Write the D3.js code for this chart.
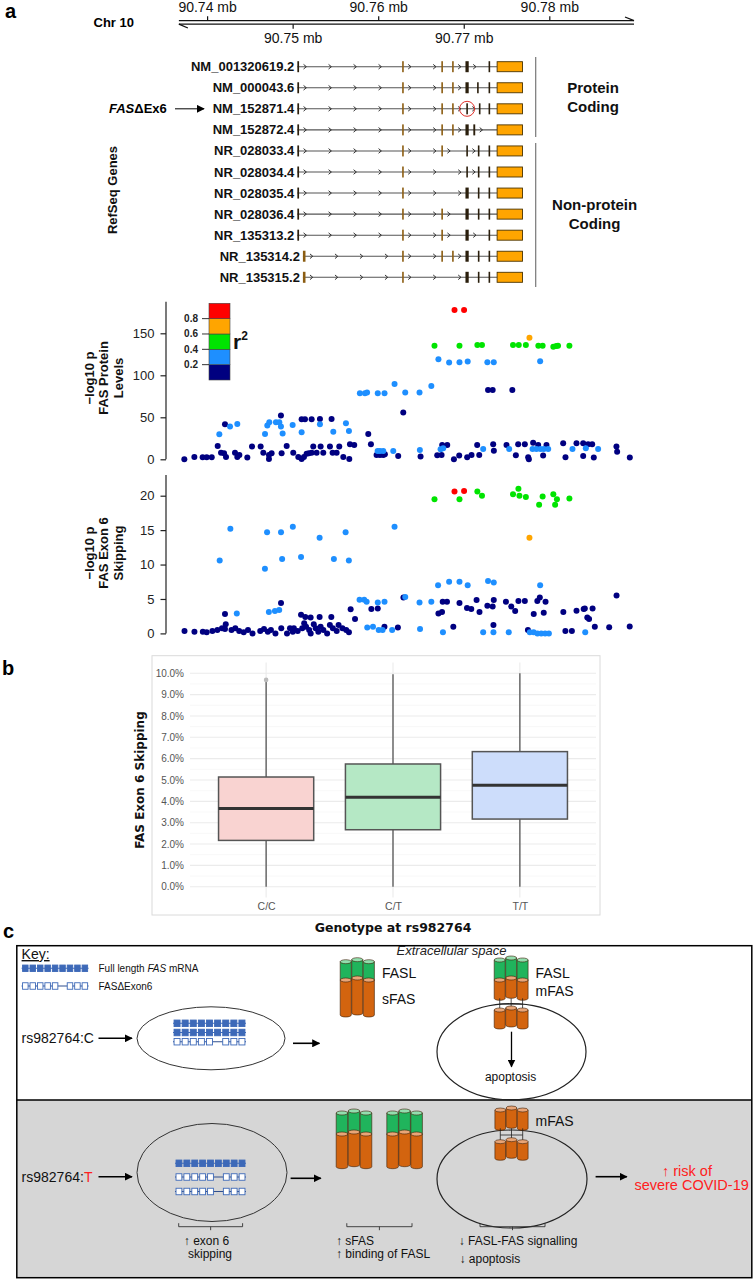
<!DOCTYPE html>
<html><head><meta charset="utf-8">
<script src="https://cdn.jsdelivr.net/npm/d3@7"></script>
<style>
body{margin:0;background:#fff;}
svg{display:block;font-family:"Liberation Sans",Arial,sans-serif;}
</style></head><body>
<svg id="fig" width="753" height="1279"></svg>
<script>
// ================= DATA =================
// chromosome 10 coordinates in kb
const chrTicks = [90740, 90750, 90760, 90770, 90780];
const chrTickLabels = ["90.74 mb", "90.75 mb", "90.76 mb", "90.77 mb", "90.78 mb"];
const chrExtent = [90736.7, 90789.9];

const transcriptNames = ["NM_001320619.2", "NM_000043.6", "NM_152871.4", "NM_152872.4",
  "NR_028033.4", "NR_028034.4", "NR_028035.4", "NR_028036.4", "NR_135313.2", "NR_135314.2", "NR_135315.2"];
// exons: [start kb, end kb, kind]  d = dark, b = brown
const transcriptExons = [
  [[90750.55,90750.75,"d"],[90762.80,90762.98,"b"],[90767.38,90767.56,"b"],[90768.64,90768.82,"b"],[90770.20,90770.58,"d"],[90772.90,90773.08,"d"]],
  [[90750.55,90750.75,"d"],[90762.80,90762.98,"b"],[90767.38,90767.56,"b"],[90768.64,90768.82,"b"],[90770.20,90770.58,"d"],[90771.56,90771.74,"d"],[90772.90,90773.08,"d"]],
  [[90750.55,90750.75,"d"],[90762.80,90762.98,"b"],[90767.38,90767.56,"b"],[90768.64,90768.82,"b"],[90770.30,90770.48,"d"],[90771.77,90771.95,"d"],[90772.90,90773.08,"d"]],
  [[90750.55,90750.75,"d"],[90762.80,90762.98,"b"],[90767.38,90767.56,"b"],[90768.64,90768.82,"b"],[90770.20,90770.58,"d"],[90771.12,90771.34,"d"]],
  [[90750.55,90750.75,"d"],[90762.80,90762.98,"b"],[90767.38,90767.56,"b"],[90770.30,90770.48,"d"],[90771.65,90771.83,"d"],[90772.90,90773.08,"d"]],
  [[90750.55,90750.75,"d"],[90762.80,90762.98,"b"],[90770.30,90770.48,"d"],[90771.65,90771.83,"d"],[90772.90,90773.08,"d"]],
  [[90750.55,90750.75,"d"],[90762.80,90762.98,"b"],[90770.20,90770.58,"d"],[90771.65,90771.83,"d"],[90772.90,90773.08,"d"]],
  [[90750.55,90750.75,"d"],[90762.80,90762.98,"b"],[90767.38,90767.56,"b"],[90770.20,90770.58,"d"],[90771.65,90771.83,"d"],[90772.90,90773.08,"d"]],
  [[90750.55,90750.75,"d"],[90762.80,90762.98,"b"],[90767.38,90767.56,"b"],[90770.20,90770.58,"d"],[90772.90,90773.08,"d"]],
  [[90751.20,90751.50,"b"],[90762.80,90762.98,"b"],[90767.38,90767.56,"b"],[90768.64,90768.82,"b"],[90770.20,90770.58,"d"],[90771.65,90771.83,"d"],[90772.90,90773.08,"d"]],
  [[90751.20,90751.50,"b"],[90762.80,90762.98,"b"],[90770.20,90770.58,"d"],[90771.65,90771.83,"d"],[90772.90,90773.08,"d"]]
];
const utrExon = [90773.90, 90776.87];
const circledExon = [2, 90770.39];   // transcript index, position of skipped exon 6

// locus plots: [position kb, -log10 p, r2 with lead SNP]
const proteinQTL = [
[90737.34,0,.1],[90738.51,2.8,.1],[90739.48,2.4,.1],[90739.95,2.4,.1],[90740.54,2.4,.1],
[90741.24,15.9,.1],[90741.63,7.9,.1],[90741.98,7.1,.1],[90742.21,2.8,.1],[90742.09,41.7,.1],
[90741.43,29.8,.3],[90742.68,38.9,.3],[90743.53,42.1,.3],
[90743.26,7.9,.1],[90743.53,2.8,.1],[90743.77,5.2,.1],[90744.70,2.0,.1],[90745.25,15.1,.1],[90746.26,15.1,.1],
[90746.57,7.9,.1],[90747.23,5.2,.1],[90747.23,0.4,.1],[90747.54,7.1,.1],
[90746.77,30.2,.3],[90747.04,40.1,.3],[90747.27,44,.3],[90748.05,44,.3],[90748.44,44,.3],[90748.63,38.9,.3],
[90748.63,52,.1],[90748.83,30.6,.3],[90749.30,15.9,.1],[90748.71,7.1,.1],[90750.00,40.9,.3],
[90751.05,47.6,.1],[90751.44,47.6,.1],[90752.22,47.6,.1],[90753.19,48,.1],[90754.55,48,.1],
[90751.05,32.1,.3],[90753.19,41.7,.3],[90754.75,32.9,.3],[90756.23,42.9,.3],[90756.58,33.7,.3],
[90750.07,7.9,.1],[90750.66,2.8,.1],[90751.05,0.4,.1],[90751.32,2.8,.1],[90751.63,6.7,.1],[90751.90,7.1,.1],
[90752.22,7.9,.1],[90752.41,15.1,.1],[90752.80,7.9,.1],[90753.27,15.1,.1],[90753.58,7.9,.1],[90754.36,15.1,.1],
[90754.67,7.9,.1],[90755.14,7.9,.1],[90755.45,15.1,.1],[90755.92,2.8,.1],[90756.62,0.4,.1],[90756.70,17.9,.1],
[90757.20,17.1,.1],[90758.84,30.2,.1],[90759.15,17.9,.1],
[90759.93,9.9,.3],[90760.20,9.9,.3],[90760.59,9.9,.3],
[90759.81,5.2,.1],[90760.20,5.2,.1],[90760.59,5.2,.1],[90760.78,6.0,.1],[90761.76,9.9,.3],[90762.34,4.0,.1],
[90757.86,78.6,.3],[90758.45,78.6,.3],[90758.70,79.4,.3],[90759.95,78.6,.3],[90760.74,78.6,.3],[90761.91,89.7,.3],
[90763.16,79.4,.3],[90764.83,79.4,.3],[90766.21,87.3,.3],
[90762.93,55.6,.1],
[90764.87,11.1,.3],[90764.95,3.2,.1],[90766.90,4.8,.1],[90767.41,5.2,.1],[90767.29,11.9,.3],[90767.60,13.1,.3],
[90767.48,17.1,.1],[90768.07,17.1,.1],[90768.85,0,.1],[90769.47,4.4,.1],[90770.40,2.4,.1],[90770.91,5.2,.1],
[90771.57,17.1,.1],[90771.81,5.2,.1],[90772.27,12.3,.3],[90773.44,17.9,.1],[90773.52,10.3,.1],[90775.00,17.1,.1],
[90775.31,12.3,.3],[90776.09,4.8,.1],[90776.36,17.9,.1],[90777.14,17.9,.1],[90777.53,2.4,.1],[90777.61,0,.1],
[90778.11,19.8,.1],[90778.04,12.3,.3],[90778.50,12.3,.3],[90778.97,12.3,.3],[90779.36,12.3,.3],[90779.87,12.3,.3],
[90778.70,17.1,.1],[90779.67,17.1,.1],[90779.28,4.4,.1],[90781.62,19.0,.1],[90781.89,2.4,.1],[90782.71,12.3,.3],
[90783.18,19.0,.1],[90783.96,19.0,.1],[90784.54,17.9,.1],[90785.01,17.9,.1],[90783.96,4.0,.1],[90784.27,13.1,.3],
[90785.20,2.0,.1],[90785.71,12.3,.3],[90787.85,15.1,.1],[90787.93,9.1,.1],[90789.41,2.0,.1],
[90772.84,82.5,.1],[90773.38,82.5,.1],[90775.68,82.5,.1],
[90767.04,119,.3],[90768.29,115.1,.3],[90769.50,115.5,.3],[90770.46,116.3,.3],[90772.76,115.5,.3],[90773.51,115.5,.3],[90778.93,116.7,.3],
[90766.58,135.3,.5],[90769.50,135.3,.5],[90771.59,136.1,.5],[90772.13,136.1,.5],[90775.76,136.1,.5],[90776.43,136.1,.5],
[90777.26,136.1,.5],[90778.72,135.3,.5],[90779.22,135.3,.5],[90780.47,134.1,.5],[90780.81,134.9,.5],[90781.02,135.3,.5],[90782.35,135.3,.5],
[90777.68,144.8,.7],
[90768.92,177.8,.9],[90770.04,177.8,.9]
];
const skippingQTL = [
[90737.36,.35,.1],[90738.52,.25,.1],[90739.50,.25,.1],[90739.95,.15,.1],[90740.62,.35,.1],[90741.20,.5,.1],
[90741.74,.74,.1],[90742.09,.64,.1],[90742.18,1.32,.1],[90742.85,.5,.1],[90743.30,.74,.1],[90743.75,.35,.1],
[90744.28,.15,.1],[90744.78,.5,.1],[90745.31,0,.1],[90746.21,.35,.1],[90746.65,.64,.1],[90747.10,.25,.1],
[90747.46,.5,.1],[90747.99,0,.1],[90748.67,.74,.1],[90749.34,0,.1],[90749.69,.74,.1],[90750.01,.25,.1],
[90750.14,.74,.1],[90750.59,.35,.1],[90751.12,.74,.1],[90751.35,1.46,.1],[90751.57,.98,.1],[90751.93,.5,.1],
[90752.11,0,.1],[90752.47,1.32,.1],[90752.69,.74,.1],[90753.00,.25,.1],[90753.27,.98,.1],[90753.59,.5,.1],
[90754.03,0,.1],[90754.35,1.22,.1],[90754.70,.74,.1],[90755.15,.35,.1],[90755.37,1.22,.1],[90755.82,.74,.1],
[90756.26,.5,.1],[90756.58,.15,.1],[90757.29,2.1,.1],
[90758.72,.85,.3],[90759.39,.98,.3],[90760.06,.5,.3],[90760.51,.5,.3],[90760.73,.98,.1],[90761.63,.5,.3],
[90762.30,.85,.1],[90764.89,.64,.3],[90767.57,.15,.3],[90768.78,.98,.1],[90772.27,.15,.3],[90773.47,.15,.3],
[90773.47,1.22,.1],[90775.26,.15,.3],[90777.50,.5,.1],[90777.72,.15,.3],[90778.17,.15,.3],[90778.61,0,.3],
[90779.06,0,.3],[90779.51,0,.3],[90779.95,0,.3],[90781.88,.35,.1],[90782.64,.35,.1],[90784.20,.15,.3],
[90784.65,2.1,.1],[90785.32,.98,.1],[90787.0,.9,.1],[90789.4,1.0,.1],
[90751.48,2.4,.1],[90752.10,2.3,.1],[90753.15,2.4,.1],[90754.52,2.4,.1],[90784.44,2.3,.1],
[90741.47,10.6,.3],[90742.72,15.2,.3],[90746.76,9.4,.3],[90747.01,14.7,.3],[90748.64,14.7,.3],[90748.77,10.8,.3],
[90750.02,15.5,.3],[90750.98,11.1,.3],[90753.15,13.9,.3],[90754.82,10.8,.3],[90756.19,14.7,.3],[90756.57,10.6,.3],[90761.91,15.5,.3],
[90767.00,7.0,.3],[90768.29,7.5,.3],[90769.50,7.5,.3],[90770.46,7.0,.3],[90772.84,7.6,.3],[90773.51,7.4,.3],[90778.93,7.0,.3],
[90757.82,4.9,.3],[90758.36,4.9,.3],[90758.65,4.6,.3],[90759.95,4.5,.3],[90760.74,4.6,.3],[90763.16,5.3,.3],[90764.83,4.5,.3],[90766.21,4.6,.3],
[90743.47,2.9,.3],[90747.22,3.1,.3],[90747.93,3.25,.3],[90748.43,3.4,.3],
[90742.09,2.8,.1],[90748.64,4.4,.1],[90750.98,2.7,.1],[90756.78,3.5,.1],[90759.20,3.55,.1],[90759.95,3.6,.1],[90762.95,5.2,.1],
[90767.04,2.9,.1],[90767.46,3.1,.1],[90767.54,4.6,.1],[90768.04,4.6,.1],[90769.50,4.4,.1],[90770.38,3.7,.1],[90770.88,3.55,.1],
[90771.50,4.85,.1],[90771.84,3.1,.1],[90772.76,4.0,.1],[90773.38,3.9,.1],[90773.51,4.85,.1],[90774.93,4.6,.1],[90775.55,3.9,.1],
[90776.01,3.25,.1],[90776.39,4.7,.1],[90777.14,4.7,.1],[90778.18,2.8,.1],[90778.60,4.7,.1],[90778.89,5.2,.1],[90779.56,4.6,.1],
[90779.35,3.0,.1],[90781.64,3.1,.1],[90783.18,3.3,.1],[90784.02,3.55,.1],[90784.15,3.6,.1],[90785.06,3.6,.1],[90787.86,5.5,.1],
[90766.58,19.5,.5],[90769.50,19.5,.5],[90771.59,20.6,.5],[90772.13,20.0,.5],[90775.76,20.2,.5],[90776.39,21.0,.5],[90776.51,20.0,.5],
[90777.26,19.8,.5],[90778.81,18.7,.5],[90779.22,19.9,.5],[90780.47,20.2,.5],[90780.68,18.7,.5],[90780.89,19.5,.5],[90782.35,19.6,.5],
[90777.68,13.9,.7],
[90768.92,20.6,.9],[90770.04,20.7,.9]
];
const proteinTicks = [0, 50, 100, 150];
const skippingTicks = [0, 5, 10, 15, 20];
const r2Breaks = [0.2, 0.4, 0.6, 0.8];
const r2Colors = ["#000080", "#1E8FFF", "#00E400", "#FFA500", "#FF0000"];

// panel b: box plot statistics (fraction)
const genotypes = ["C/C", "C/T", "T/T"];
const boxQ1 = [0.0217, 0.0267, 0.0317];
const boxMedian = [0.0366, 0.0419, 0.0475];
const boxQ3 = [0.0514, 0.0575, 0.0633];
const whiskerLow = [0, 0, 0];
const whiskerHigh = [0.0960, 0.0995, 0.1000];
const outlierGenotype = ["C/C"];
const outlierValue = [0.0969];
const boxFills = ["#F9D3D1", "#B5E8C5", "#CDDDFB"];
const percentTicks = [0, 0.01, 0.02, 0.03, 0.04, 0.05, 0.06, 0.07, 0.08, 0.09, 0.10];

// ================= DRAW =================
const svg = d3.select("#fig");
const FONT = "'Liberation Sans', Arial, sans-serif";
const DV = "'DejaVu Sans', Verdana, sans-serif";

// ---------- Panel a: gene track ----------
const x = d3.scaleLinear().domain([90740, 90780]).range([207.1, 549.3]);
const gA = svg.append("g");
gA.append("text").attr("x", 5).attr("y", 18).attr("font-size", 20).attr("font-weight", "bold").text("a");
gA.append("text").attr("x", 134).attr("y", 26.5).attr("text-anchor", "end").attr("font-size", 13).attr("font-weight", "bold").text("Chr 10");

const styleAxis = g => { g.select(".domain").remove(); g.selectAll("text").attr("font-size", 14).attr("font-family", FONT).attr("fill", "#111"); g.selectAll("line").attr("stroke", "#111").attr("stroke-width", 1.2); };
gA.append("g").attr("transform", "translate(0,20.7)")
  .call(d3.axisTop(x).tickValues(chrTicks.filter((d, i) => i % 2 === 0)).tickFormat(d => chrTickLabels[chrTicks.indexOf(d)]).tickSize(4.5).tickPadding(4))
  .call(styleAxis);
gA.append("g").attr("transform", "translate(0,24.2)")
  .call(d3.axisBottom(x).tickValues(chrTicks.filter((d, i) => i % 2 === 1)).tickFormat(d => chrTickLabels[chrTicks.indexOf(d)]).tickSize(4.5).tickPadding(4))
  .call(styleAxis);
const xs = x(chrExtent[0]), xe = x(chrExtent[1]);
gA.append("line").attr("x1", xs).attr("x2", xe).attr("y1", 20.7).attr("y2", 20.7).attr("stroke", "#111").attr("stroke-width", 1.3);
gA.append("line").attr("x1", xs).attr("x2", xe).attr("y1", 24.2).attr("y2", 24.2).attr("stroke", "#111").attr("stroke-width", 1.3);
gA.append("path").attr("d", `M${xe - 9},17 L${xe},20.7`).attr("stroke", "#111").attr("stroke-width", 1.3).attr("fill", "none");
gA.append("path").attr("d", `M${xs + 9},28 L${xs},24.2`).attr("stroke", "#111").attr("stroke-width", 1.3).attr("fill", "none");

const rowY = d3.scaleLinear().domain([0, 10]).range([66.7, 277.3]);
const exonColor = { d: "#2a1e0c", b: "#8C5D12" };
transcriptNames.forEach((name, i) => {
  const y = rowY(i);
  const ex = transcriptExons[i];
  const g = gA.append("g");
  const x0 = x(ex[0][0]), xb = x(utrExon[0]);
  g.append("text").attr("x", x0 - 3).attr("y", y + 4.5).attr("text-anchor", "end")
    .attr("font-size", 13).attr("font-weight", "bold").attr("fill", "#111").text(name);
  g.append("line").attr("x1", x0).attr("x2", xb).attr("y1", y).attr("y2", y).attr("stroke", "#555").attr("stroke-width", 1.1);
  const bounds = ex.map(e => [x(e[0]), x(e[1])]).concat([[xb, x(utrExon[1])]]);
  for (let k = 0; k < bounds.length - 1; k++) {
    const a = bounds[k][1], b = bounds[k + 1][0];
    for (let p = a + 6; p < b - 4; p += 25) {
      g.append("path").attr("d", `M${p - 1.5},${y - 2.3} L${p + 1.3},${y} L${p - 1.5},${y + 2.3}`)
        .attr("fill", "none").attr("stroke", "#333").attr("stroke-width", 1);
    }
  }
  ex.forEach(e => {
    g.append("rect").attr("x", x(e[0])).attr("y", y - 5.5).attr("width", Math.max(1.6, x(e[1]) - x(e[0]))).attr("height", 11)
      .attr("fill", exonColor[e[2]]);
  });
  g.append("rect").attr("x", xb).attr("y", y - 5).attr("width", x(utrExon[1]) - xb).attr("height", 10)
    .attr("fill", "#FFA500").attr("stroke", "#4a3300").attr("stroke-width", 0.9);
});
gA.append("circle").attr("cx", x(circledExon[1])).attr("cy", rowY(circledExon[0])).attr("r", 7.5)
  .attr("fill", "none").attr("stroke", "#e0302a").attr("stroke-width", 1);

const defs = svg.append("defs");
defs.append("marker").attr("id", "ah").attr("viewBox", "0 0 10 10").attr("refX", 9).attr("refY", 5)
  .attr("markerWidth", 8).attr("markerHeight", 8).attr("markerUnits", "userSpaceOnUse").attr("orient", "auto")
  .append("path").attr("d", "M0,0 L10,5 L0,10 Z").attr("fill", "#000");
const arrow = (g, x1, y1, x2, y2, w = 1.6) => g.append("line").attr("x1", x1).attr("y1", y1).attr("x2", x2).attr("y2", y2)
  .attr("stroke", "#000").attr("stroke-width", w).attr("marker-end", "url(#ah)");

const fasT = gA.append("text").attr("x", 109).attr("y", rowY(2) + 4.5).attr("font-size", 13).attr("font-weight", "bold");
fasT.append("tspan").attr("font-style", "italic").text("FAS");
fasT.append("tspan").text("ΔEx6");
arrow(gA, 175, rowY(2), 204, rowY(2), 1);

gA.append("line").attr("x1", 535.7).attr("x2", 535.7).attr("y1", 57).attr("y2", 137).attr("stroke", "#777").attr("stroke-width", 1.2);
gA.append("line").attr("x1", 535.7).attr("x2", 535.7).attr("y1", 143).attr("y2", 287).attr("stroke", "#777").attr("stroke-width", 1.2);
[["Protein", 93, 87.3], ["Coding", 93, 106.7], ["Non-protein", 94.6, 204.3], ["Coding", 94.6, 223.3]].forEach(t => {
  gA.append("text").attr("x", 500 + t[1]).attr("y", t[2] + 5.3).attr("text-anchor", "middle").attr("font-size", 15).attr("font-weight", "bold").attr("fill", "#111").text(t[0]);
});
gA.append("text").attr("transform", "translate(117,190) rotate(-90)").attr("text-anchor", "middle")
  .attr("font-size", 13).attr("font-weight", "bold").attr("fill", "#111").text("RefSeq Genes");

// ---------- Locus plots ----------
const r2Color = d3.scaleThreshold().domain(r2Breaks).range(r2Colors);
function locus(data, ticks, yRange, axisTopY, labels, labelY) {
  const y = d3.scaleLinear().domain([0, ticks[ticks.length - 1]]).range(yRange);
  const g = svg.append("g");
  g.append("g").attr("transform", "translate(166,0)")
    .call(d3.axisLeft(y).tickValues(ticks).tickSize(5.5).tickPadding(6))
    .call(a => { a.select(".domain").remove(); a.selectAll("text").attr("font-size", 13).attr("font-family", FONT).attr("fill", "#222"); a.selectAll("line").attr("stroke", "#222").attr("stroke-width", 1.2); });
  g.append("line").attr("x1", 166).attr("x2", 166).attr("y1", y(0)).attr("y2", axisTopY).attr("stroke", "#222").attr("stroke-width", 1.2);
  labels.forEach((t, i) => {
    g.append("text").attr("transform", `translate(${89 + i * 14.5},${labelY}) rotate(-90)`).attr("dy", "0.35em")
      .attr("text-anchor", "middle").attr("font-size", 13).attr("font-weight", "bold").attr("fill", "#111").text(t);
  });
  const sorted = data.slice().sort((a, b) => a[2] - b[2]);
  g.selectAll("circle.pt").data(sorted).join("circle").attr("class", "pt")
    .attr("cx", d => x(d[0])).attr("cy", d => y(d[1])).attr("r", 3).attr("fill", d => r2Color(d[2]));
  return g;
}
locus(proteinQTL, proteinTicks, [459.3, 333.3], 301.7, ["\u2212log10 p", "FAS Protein", "Levels"], 378);
locus(skippingQTL, skippingTicks, [633.4, 495.7], 475, ["\u2212log10 p", "FAS Exon 6", "Skipping"], 553);

// r2 legend
const leg = svg.append("g");
const ly = d3.scaleLinear().domain([0, 1]).range([380, 303.3]);
const legEdges = [0].concat(r2Breaks, [1]);
r2Colors.forEach((c, i) => {
  leg.append("rect").attr("x", 209).attr("y", ly(legEdges[i + 1])).attr("width", 21).attr("height", ly(legEdges[i]) - ly(legEdges[i + 1]))
    .attr("fill", c).attr("stroke", "#444").attr("stroke-width", 0.6);
});
r2Breaks.forEach(b => {
  leg.append("line").attr("x1", 202).attr("x2", 209).attr("y1", ly(b)).attr("y2", ly(b)).attr("stroke", "#333");
  leg.append("text").attr("x", 198).attr("y", ly(b) + 3.5).attr("text-anchor", "end").attr("font-size", 10).attr("font-weight", "bold").attr("fill", "#222").text(b.toFixed(1));
});
const r2t = leg.append("text").attr("x", 233).attr("y", 349).attr("font-size", 21).attr("font-weight", "bold").attr("fill", "#111");
r2t.append("tspan").text("r");
r2t.append("tspan").attr("font-size", 12).attr("dy", -9).text("2");

// ---------- Panel b: box plot ----------
const gB = svg.append("g");
gB.append("text").attr("x", 2).attr("y", 675).attr("font-size", 20).attr("font-weight", "bold").text("b");
gB.append("rect").attr("x", 152).attr("y", 655.7).attr("width", 448).attr("height", 259.3).attr("fill", "#fff").attr("stroke", "#DADADA").attr("stroke-width", 1);
const yB = d3.scaleLinear().domain([-0.005, 0.105]).range([897.4, 662.6]);
const xB = d3.scalePoint().domain(genotypes).range([190, 596]).padding(0.6);
const bw = xB.step() * 0.75;
d3.range(0, 0.1001, 0.005).forEach(v => {
  const major = Math.abs(v * 100 - Math.round(v * 100)) < 1e-6;
  gB.append("line").attr("x1", 190).attr("x2", 596).attr("y1", yB(v)).attr("y2", yB(v))
    .attr("stroke", major ? "#EBEBEB" : "#F4F4F4").attr("stroke-width", major ? 1.1 : 0.6);
});
genotypes.forEach(gt => gB.append("line").attr("x1", xB(gt)).attr("x2", xB(gt)).attr("y1", 662.6).attr("y2", 897.4).attr("stroke", "#EBEBEB").attr("stroke-width", 1.1));
gB.append("g").attr("transform", "translate(190,0)")
  .call(d3.axisLeft(yB).tickValues(percentTicks).tickFormat(d3.format(".1%")).tickSize(0).tickPadding(6))
  .call(a => { a.select(".domain").remove(); a.selectAll("text").attr("font-size", 10).attr("font-family", FONT).attr("fill", "#555"); });
gB.append("g").attr("transform", "translate(0,897.4)")
  .call(d3.axisBottom(xB).tickSize(0).tickPadding(5))
  .call(a => { a.select(".domain").remove(); a.selectAll("text").attr("font-size", 10.5).attr("font-family", FONT).attr("fill", "#555"); });
genotypes.forEach((gt, i) => {
  const cx = xB(gt);
  gB.append("line").attr("x1", cx).attr("x2", cx).attr("y1", yB(boxQ3[i])).attr("y2", yB(whiskerHigh[i])).attr("stroke", "#555").attr("stroke-width", 1.3);
  gB.append("line").attr("x1", cx).attr("x2", cx).attr("y1", yB(boxQ1[i])).attr("y2", yB(whiskerLow[i])).attr("stroke", "#555").attr("stroke-width", 1.3);
  gB.append("rect").attr("x", cx - bw / 2).attr("y", yB(boxQ3[i])).attr("width", bw).attr("height", yB(boxQ1[i]) - yB(boxQ3[i]))
    .attr("fill", boxFills[i]).attr("stroke", "#555").attr("stroke-width", 1.5);
  gB.append("line").attr("x1", cx - bw / 2).attr("x2", cx + bw / 2).attr("y1", yB(boxMedian[i])).attr("y2", yB(boxMedian[i])).attr("stroke", "#333").attr("stroke-width", 3);
});
outlierGenotype.forEach((gt, i) => gB.append("circle").attr("cx", xB(gt)).attr("cy", yB(outlierValue[i])).attr("r", 2.3).attr("fill", "#BBBBBB"));
gB.append("text").attr("transform", "translate(140,780) rotate(-90)").attr("dy", "0.35em").attr("text-anchor", "middle")
  .attr("font-family", DV).attr("font-size", 12).attr("font-weight", "bold").attr("fill", "#111").text("FAS Exon 6 Skipping");
gB.append("text").attr("x", 393).attr("y", 931.5).attr("text-anchor", "middle")
  .attr("font-family", DV).attr("font-size", 12.5).attr("font-weight", "bold").attr("fill", "#111").text("Genotype at rs982764");

// ---------- Panel c: schematic ----------
const gC = svg.append("g");
gC.append("text").attr("x", 3).attr("y", 938).attr("font-size", 20).attr("font-weight", "bold").text("c");
gC.append("rect").attr("x", 16.8).attr("y", 1100).attr("width", 735).attr("height", 177.7).attr("fill", "#D6D6D6");
gC.append("rect").attr("x", 16.8).attr("y", 945.7).attr("width", 735).attr("height", 332).attr("fill", "none").attr("stroke", "#000").attr("stroke-width", 1.5);
gC.append("line").attr("x1", 16.8).attr("x2", 751.8).attr("y1", 1100).attr("y2", 1100).attr("stroke", "#000").attr("stroke-width", 1.5);

const BLUE = "#3D69B8";
function mrna(g, x0, y, w, full) {
  const n = 9, slot = w / n, bwid = slot * 0.74, bh = 6.5;
  g.append("line").attr("x1", x0).attr("x2", x0 + w).attr("y1", y).attr("y2", y).attr("stroke", full ? BLUE : "#2f4f8f").attr("stroke-width", 1.1);
  for (let i = 0; i < n; i++) {
    if (!full && i === 5) continue;
    g.append("rect").attr("x", x0 + i * slot + (slot - bwid) / 2).attr("y", y - bh / 2).attr("width", bwid).attr("height", bh)
      .attr("fill", full ? BLUE : "#fff").attr("stroke", BLUE).attr("stroke-width", 0.9);
  }
}
const OR = "#D3640F", OR_CAP = "#E9A577", GR = "#20B45C", GR_CAP = "#93DEAE";
function complex(g, x0, w, segs) {
  const cw = w / 3;
  for (let i = 0; i < 3; i++) {
    const cx = x0 + cw * (i + 0.5), off = i === 1 ? -2 : 0, rx = cw / 2 - 0.2;
    segs.forEach(s => {
      const t = s[0] + off, b = s[1] + off;
      const fill = s[2] === "g" ? GR : OR, cap = s[2] === "g" ? GR_CAP : OR_CAP;
      g.append("path").attr("d", `M${cx - rx},${t} L${cx - rx},${b} A${rx},2 0 0 0 ${cx + rx},${b} L${cx + rx},${t} Z`)
        .attr("fill", fill).attr("stroke", "#3a1d05").attr("stroke-width", 0.6);
      g.append("ellipse").attr("cx", cx).attr("cy", t).attr("rx", rx).attr("ry", 2).attr("fill", cap).attr("stroke", "#3a1d05").attr("stroke-width", 0.6);
    });
  }
}
function connectors(g, x0, w, t, b) {
  const cw = w / 3;
  for (let i = 0; i < 3; i++) g.append("line").attr("x1", x0 + cw * (i + 0.5)).attr("x2", x0 + cw * (i + 0.5)).attr("y1", t).attr("y2", b).attr("stroke", "#222").attr("stroke-width", 0.8);
  g.append("line").attr("x1", x0 + cw * 0.5).attr("x2", x0 + cw * 2.5).attr("y1", (t + b) / 2).attr("y2", (t + b) / 2).attr("stroke", "#222").attr("stroke-width", 0.8);
}
const txt = (g, s, xx, yy, size, opts = {}) => g.append("text").attr("x", xx).attr("y", yy).attr("font-size", size).attr("fill", opts.fill || "#111")
    .attr("text-anchor", opts.anchor || "start").attr("font-style", opts.italic ? "italic" : "normal").text(s);

// key
txt(gC, "Key:", 21.6, 959, 14).attr("text-decoration", "underline");
mrna(gC, 21.6, 968.3, 67, true);
mrna(gC, 21.6, 986, 67, false);
const k1 = gC.append("text").attr("x", 98.5).attr("y", 971.8).attr("font-size", 10).attr("fill", "#111");
k1.append("tspan").text("Full length ");
k1.append("tspan").attr("font-style", "italic").text("FAS");
k1.append("tspan").text(" mRNA");
txt(gC, "FASΔExon6", 98.5, 989.5, 10);
txt(gC, "Extracellular space", 451.5, 955, 13, { anchor: "middle", italic: true, fill: "#222" });

// top (C allele)
txt(gC, "rs982764:C", 21.6, 1043.3, 14);
arrow(gC, 98.5, 1038.3, 132, 1038.3);
gC.append("ellipse").attr("cx", 211).attr("cy", 1038.3).attr("rx", 74).attr("ry", 31.5).attr("fill", "none").attr("stroke", "#333").attr("stroke-width", 1);
mrna(gC, 173, 1023.3, 73, true);
mrna(gC, 173, 1032.5, 73, true);
mrna(gC, 173, 1041.7, 73, false);
arrow(gC, 293, 1043.3, 319.4, 1043.3);
complex(gC, 340, 34.6, [[961.7, 980, "g"], [980, 1015, "o"]]);
txt(gC, "FASL", 382, 978, 14);
txt(gC, "sFAS", 382, 1003.7, 14);
gC.append("ellipse").attr("cx", 511.5).attr("cy", 1051.7).attr("rx", 74.5).attr("ry", 48).attr("fill", "none").attr("stroke", "#222").attr("stroke-width", 1.2);
complex(gC, 494, 34.3, [[960, 980, "g"], [980, 998.3, "o"]]);
connectors(gC, 494, 34.3, 998.3, 1010);
complex(gC, 494, 34.3, [[1010, 1027, "o"]]);
txt(gC, "FASL", 535.5, 977.7, 14);
txt(gC, "mFAS", 535.5, 996.4, 14);
arrow(gC, 511.5, 1031.7, 511.5, 1066.7, 1.3);
txt(gC, "apoptosis", 510.6, 1080.9, 12, { anchor: "middle" });

// bottom (T allele)
const rsT = gC.append("text").attr("x", 21.6).attr("y", 1181.7).attr("font-size", 14).attr("fill", "#111");
rsT.append("tspan").text("rs982764:");
rsT.append("tspan").attr("fill", "#FF2020").text("T");
arrow(gC, 98.5, 1176.7, 132, 1176.7);
gC.append("ellipse").attr("cx", 212).attr("cy", 1172.5).attr("rx", 75).attr("ry", 49).attr("fill", "none").attr("stroke", "#333").attr("stroke-width", 1);
mrna(gC, 175, 1163.3, 71, true);
mrna(gC, 175, 1177, 71, false);
mrna(gC, 175, 1191.5, 71, false);
arrow(gC, 290.6, 1178.3, 320.8, 1178.3);
complex(gC, 336, 36, [[1113, 1134, "g"], [1134, 1166.7, "o"]]);
complex(gC, 386.6, 36, [[1113, 1134, "g"], [1134, 1166.7, "o"]]);
gC.append("ellipse").attr("cx", 512).attr("cy", 1179).attr("rx", 75).attr("ry", 49).attr("fill", "none").attr("stroke", "#222").attr("stroke-width", 1.2);
complex(gC, 494.7, 33.6, [[1110, 1128.3, "o"]]);
connectors(gC, 494.7, 33.6, 1128.3, 1141.7);
complex(gC, 494.7, 33.6, [[1141.7, 1158.3, "o"]]);
txt(gC, "mFAS", 535.5, 1126.4, 14);
arrow(gC, 595.6, 1176.7, 626.8, 1176.7);
txt(gC, "\u2191 risk of", 687, 1175.5, 14.5, { anchor: "middle", fill: "#FF2020" });
txt(gC, "severe COVID-19", 691.6, 1189.5, 14.5, { anchor: "middle", fill: "#FF2020" });
function bracket(g, x1, x2, y) {
  g.append("path").attr("d", `M${x1},${y - 3.5} V${y} H${x2} V${y - 3.5} M${(x1 + x2) / 2},${y} V${y + 3.5}`)
    .attr("fill", "none").attr("stroke", "#333").attr("stroke-width", 0.9);
}
bracket(gC, 178.7, 242.6, 1226.7);
bracket(gC, 346.8, 412, 1226.7);
bracket(gC, 480, 545, 1226.7);
txt(gC, "\u2191 exon 6", 206.5, 1245, 12, { anchor: "middle" });
txt(gC, "skipping", 210, 1257.6, 12, { anchor: "middle" });
txt(gC, "\u2191 sFAS", 336, 1245, 12);
txt(gC, "\u2191 binding of FASL", 336, 1257.6, 12);
txt(gC, "\u2193 FASL-FAS signalling", 458.7, 1245, 12);
txt(gC, "\u2193 apoptosis", 459.5, 1262.6, 12);
</script>
</body></html>
